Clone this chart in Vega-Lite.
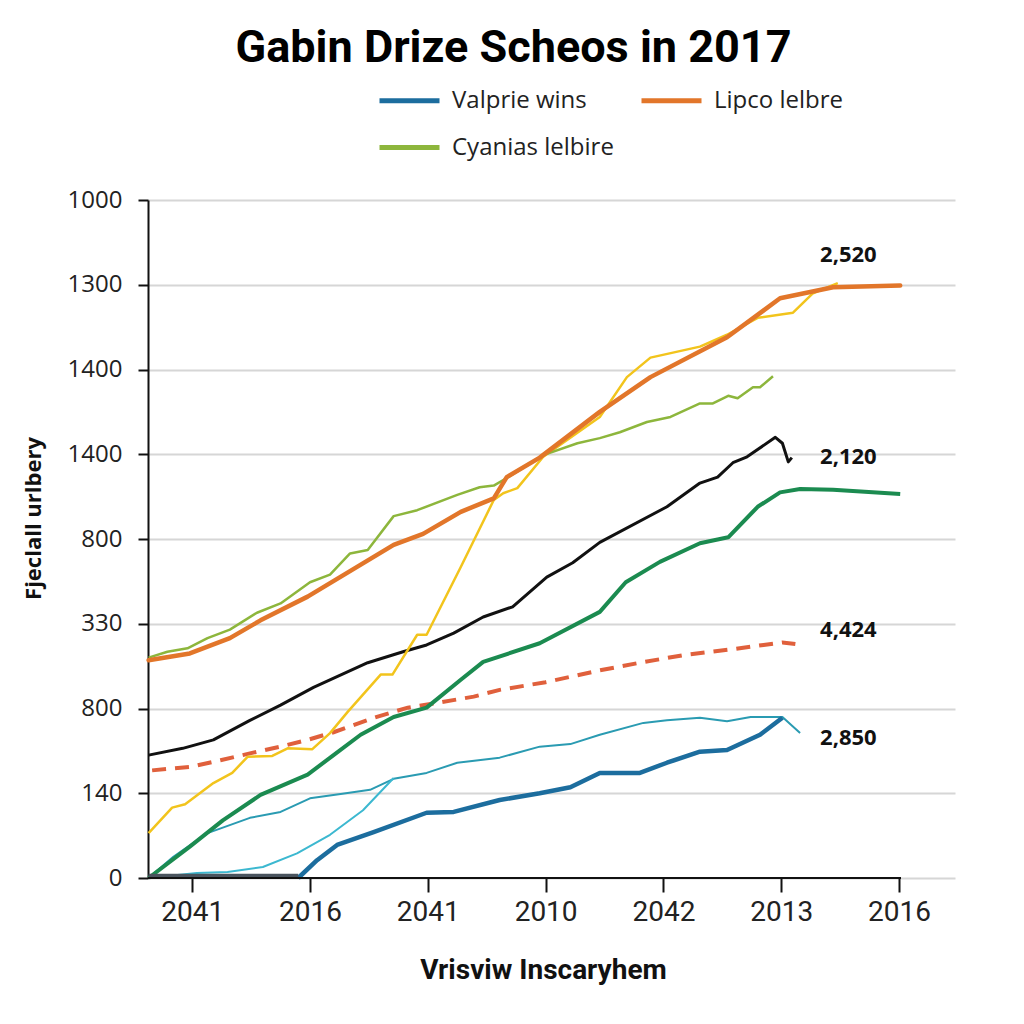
{
  "$schema": "https://vega.github.io/schema/vega-lite/v6.json",
  "width": 807,
  "height": 678,
  "autosize": {"type": "none"},
  "padding": {"left": 148, "top": 200, "right": 69, "bottom": 146},
  "background": "white",
  "title": {
    "text": "Gabin Drize Scheos in 2017",
    "font": "Liberation Sans Narrow, Roboto, sans-serif",
    "fontSize": 45,
    "fontWeight": "bold",
    "color": "#000000",
    "anchor": "middle",
    "dx": -38,
    "offset": -3
  },
  "config": {
    "view": {"stroke": null},
    "axis": {
      "domainColor": "#111111",
      "domainWidth": 2,
      "tickColor": "#111111",
      "tickWidth": 2,
      "gridColor": "#d6d6d6",
      "gridWidth": 2,
      "labelColor": "#222222",
      "titleColor": "#111111"
    },
    "legend": {
      "orient": "none",
      "legendX": 229,
      "legendY": -132,
      "columns": 2,
      "symbolType": "stroke",
      "symbolSize": 3600,
      "symbolStrokeWidth": 5,
      "labelFont": "Open Sans",
      "labelFontSize": 24,
      "labelColor": "#222222",
      "labelOffset": 10,
      "labelLimit": 400,
      "columnPadding": 17,
      "rowPadding": 2,
      "padding": 0,
      "title": null
    }
  },
  "datasets": {
    "lines": [
      {"s": "Valprie wins", "x": 0.90, "y": 0.00},
      {"s": "Valprie wins", "x": 1.06, "y": 0.21},
      {"s": "Valprie wins", "x": 1.23, "y": 0.39},
      {"s": "Valprie wins", "x": 1.54, "y": 0.54},
      {"s": "Valprie wins", "x": 1.99, "y": 0.77},
      {"s": "Valprie wins", "x": 2.22, "y": 0.78},
      {"s": "Valprie wins", "x": 2.61, "y": 0.92},
      {"s": "Valprie wins", "x": 2.95, "y": 1.00},
      {"s": "Valprie wins", "x": 3.21, "y": 1.07},
      {"s": "Valprie wins", "x": 3.46, "y": 1.24},
      {"s": "Valprie wins", "x": 3.80, "y": 1.24},
      {"s": "Valprie wins", "x": 4.03, "y": 1.36},
      {"s": "Valprie wins", "x": 4.31, "y": 1.49},
      {"s": "Valprie wins", "x": 4.54, "y": 1.51},
      {"s": "Valprie wins", "x": 4.82, "y": 1.69},
      {"s": "Valprie wins", "x": 5.01, "y": 1.89},

      {"s": "Lipco lelbre", "x": -0.37, "y": 2.57},
      {"s": "Lipco lelbre", "x": -0.02, "y": 2.65},
      {"s": "Lipco lelbre", "x": 0.32, "y": 2.83},
      {"s": "Lipco lelbre", "x": 0.58, "y": 3.04},
      {"s": "Lipco lelbre", "x": 0.98, "y": 3.32},
      {"s": "Lipco lelbre", "x": 1.71, "y": 3.93},
      {"s": "Lipco lelbre", "x": 1.96, "y": 4.06},
      {"s": "Lipco lelbre", "x": 2.28, "y": 4.32},
      {"s": "Lipco lelbre", "x": 2.56, "y": 4.48},
      {"s": "Lipco lelbre", "x": 2.67, "y": 4.73},
      {"s": "Lipco lelbre", "x": 2.95, "y": 4.96},
      {"s": "Lipco lelbre", "x": 3.46, "y": 5.50},
      {"s": "Lipco lelbre", "x": 3.89, "y": 5.91},
      {"s": "Lipco lelbre", "x": 4.54, "y": 6.38},
      {"s": "Lipco lelbre", "x": 4.99, "y": 6.84},
      {"s": "Lipco lelbre", "x": 5.44, "y": 6.97},
      {"s": "Lipco lelbre", "x": 6.01, "y": 6.99},

      {"s": "Cyanias lelbire", "x": -0.37, "y": 2.60},
      {"s": "Cyanias lelbire", "x": -0.21, "y": 2.67},
      {"s": "Cyanias lelbire", "x": -0.04, "y": 2.71},
      {"s": "Cyanias lelbire", "x": 0.13, "y": 2.83},
      {"s": "Cyanias lelbire", "x": 0.32, "y": 2.93},
      {"s": "Cyanias lelbire", "x": 0.55, "y": 3.13},
      {"s": "Cyanias lelbire", "x": 0.75, "y": 3.24},
      {"s": "Cyanias lelbire", "x": 1.00, "y": 3.49},
      {"s": "Cyanias lelbire", "x": 1.17, "y": 3.58},
      {"s": "Cyanias lelbire", "x": 1.34, "y": 3.83},
      {"s": "Cyanias lelbire", "x": 1.49, "y": 3.87},
      {"s": "Cyanias lelbire", "x": 1.71, "y": 4.27},
      {"s": "Cyanias lelbire", "x": 1.91, "y": 4.34},
      {"s": "Cyanias lelbire", "x": 2.25, "y": 4.52},
      {"s": "Cyanias lelbire", "x": 2.44, "y": 4.61},
      {"s": "Cyanias lelbire", "x": 2.56, "y": 4.63},
      {"s": "Cyanias lelbire", "x": 2.67, "y": 4.72},
      {"s": "Cyanias lelbire", "x": 2.98, "y": 4.99},
      {"s": "Cyanias lelbire", "x": 3.27, "y": 5.13},
      {"s": "Cyanias lelbire", "x": 3.46, "y": 5.19},
      {"s": "Cyanias lelbire", "x": 3.63, "y": 5.26},
      {"s": "Cyanias lelbire", "x": 3.86, "y": 5.38},
      {"s": "Cyanias lelbire", "x": 4.06, "y": 5.44},
      {"s": "Cyanias lelbire", "x": 4.31, "y": 5.60},
      {"s": "Cyanias lelbire", "x": 4.42, "y": 5.60},
      {"s": "Cyanias lelbire", "x": 4.55, "y": 5.69},
      {"s": "Cyanias lelbire", "x": 4.63, "y": 5.66},
      {"s": "Cyanias lelbire", "x": 4.76, "y": 5.79},
      {"s": "Cyanias lelbire", "x": 4.82, "y": 5.79},
      {"s": "Cyanias lelbire", "x": 4.93, "y": 5.92},

      {"s": "Yellow", "x": -0.37, "y": 0.53},
      {"s": "Yellow", "x": -0.17, "y": 0.83},
      {"s": "Yellow", "x": -0.06, "y": 0.87},
      {"s": "Yellow", "x": 0.18, "y": 1.12},
      {"s": "Yellow", "x": 0.34, "y": 1.24},
      {"s": "Yellow", "x": 0.47, "y": 1.43},
      {"s": "Yellow", "x": 0.68, "y": 1.44},
      {"s": "Yellow", "x": 0.81, "y": 1.53},
      {"s": "Yellow", "x": 1.02, "y": 1.52},
      {"s": "Yellow", "x": 1.17, "y": 1.71},
      {"s": "Yellow", "x": 1.32, "y": 1.96},
      {"s": "Yellow", "x": 1.60, "y": 2.40},
      {"s": "Yellow", "x": 1.70, "y": 2.40},
      {"s": "Yellow", "x": 1.91, "y": 2.87},
      {"s": "Yellow", "x": 1.99, "y": 2.87},
      {"s": "Yellow", "x": 2.28, "y": 3.67},
      {"s": "Yellow", "x": 2.56, "y": 4.46},
      {"s": "Yellow", "x": 2.64, "y": 4.54},
      {"s": "Yellow", "x": 2.76, "y": 4.60},
      {"s": "Yellow", "x": 2.98, "y": 4.97},
      {"s": "Yellow", "x": 3.46, "y": 5.44},
      {"s": "Yellow", "x": 3.69, "y": 5.91},
      {"s": "Yellow", "x": 3.89, "y": 6.14},
      {"s": "Yellow", "x": 4.31, "y": 6.27},
      {"s": "Yellow", "x": 4.54, "y": 6.41},
      {"s": "Yellow", "x": 4.80, "y": 6.61},
      {"s": "Yellow", "x": 5.10, "y": 6.67},
      {"s": "Yellow", "x": 5.27, "y": 6.90},
      {"s": "Yellow", "x": 5.48, "y": 7.02},

      {"s": "Black", "x": -0.37, "y": 1.45},
      {"s": "Black", "x": -0.08, "y": 1.53},
      {"s": "Black", "x": 0.18, "y": 1.63},
      {"s": "Black", "x": 0.49, "y": 1.86},
      {"s": "Black", "x": 0.75, "y": 2.04},
      {"s": "Black", "x": 1.03, "y": 2.25},
      {"s": "Black", "x": 1.49, "y": 2.54},
      {"s": "Black", "x": 1.79, "y": 2.67},
      {"s": "Black", "x": 1.99, "y": 2.75},
      {"s": "Black", "x": 2.22, "y": 2.89},
      {"s": "Black", "x": 2.47, "y": 3.08},
      {"s": "Black", "x": 2.72, "y": 3.20},
      {"s": "Black", "x": 3.01, "y": 3.55},
      {"s": "Black", "x": 3.23, "y": 3.72},
      {"s": "Black", "x": 3.46, "y": 3.96},
      {"s": "Black", "x": 4.03, "y": 4.38},
      {"s": "Black", "x": 4.31, "y": 4.66},
      {"s": "Black", "x": 4.46, "y": 4.73},
      {"s": "Black", "x": 4.59, "y": 4.90},
      {"s": "Black", "x": 4.71, "y": 4.97},
      {"s": "Black", "x": 4.95, "y": 5.20},
      {"s": "Black", "x": 5.01, "y": 5.13},
      {"s": "Black", "x": 5.06, "y": 4.91},
      {"s": "Black", "x": 5.09, "y": 4.96},

      {"s": "Green", "x": -0.37, "y": 0.00},
      {"s": "Green", "x": -0.02, "y": 0.37},
      {"s": "Green", "x": 0.26, "y": 0.68},
      {"s": "Green", "x": 0.58, "y": 0.98},
      {"s": "Green", "x": 0.98, "y": 1.22},
      {"s": "Green", "x": 1.20, "y": 1.45},
      {"s": "Green", "x": 1.43, "y": 1.69},
      {"s": "Green", "x": 1.71, "y": 1.90},
      {"s": "Green", "x": 1.99, "y": 2.01},
      {"s": "Green", "x": 2.28, "y": 2.34},
      {"s": "Green", "x": 2.47, "y": 2.55},
      {"s": "Green", "x": 2.95, "y": 2.77},
      {"s": "Green", "x": 3.46, "y": 3.14},
      {"s": "Green", "x": 3.68, "y": 3.49},
      {"s": "Green", "x": 3.97, "y": 3.73},
      {"s": "Green", "x": 4.31, "y": 3.95},
      {"s": "Green", "x": 4.55, "y": 4.02},
      {"s": "Green", "x": 4.80, "y": 4.38},
      {"s": "Green", "x": 4.99, "y": 4.55},
      {"s": "Green", "x": 5.16, "y": 4.59},
      {"s": "Green", "x": 5.44, "y": 4.58},
      {"s": "Green", "x": 6.01, "y": 4.53},

      {"s": "Red", "x": -0.34, "y": 1.27},
      {"s": "Red", "x": -0.02, "y": 1.31},
      {"s": "Red", "x": 0.24, "y": 1.39},
      {"s": "Red", "x": 0.49, "y": 1.47},
      {"s": "Red", "x": 0.75, "y": 1.55},
      {"s": "Red", "x": 0.98, "y": 1.63},
      {"s": "Red", "x": 1.20, "y": 1.72},
      {"s": "Red", "x": 1.54, "y": 1.89},
      {"s": "Red", "x": 1.83, "y": 2.01},
      {"s": "Red", "x": 2.05, "y": 2.06},
      {"s": "Red", "x": 2.39, "y": 2.14},
      {"s": "Red", "x": 2.61, "y": 2.22},
      {"s": "Red", "x": 3.00, "y": 2.31},
      {"s": "Red", "x": 3.46, "y": 2.45},
      {"s": "Red", "x": 3.80, "y": 2.54},
      {"s": "Red", "x": 4.17, "y": 2.63},
      {"s": "Red", "x": 4.59, "y": 2.70},
      {"s": "Red", "x": 4.85, "y": 2.75},
      {"s": "Red", "x": 5.01, "y": 2.78},
      {"s": "Red", "x": 5.12, "y": 2.76},

      {"s": "Teal", "x": -0.37, "y": 0.00},
      {"s": "Teal", "x": -0.16, "y": 0.25},
      {"s": "Teal", "x": 0.13, "y": 0.53},
      {"s": "Teal", "x": 0.49, "y": 0.71},
      {"s": "Teal", "x": 0.75, "y": 0.78},
      {"s": "Teal", "x": 1.00, "y": 0.94},
      {"s": "Teal", "x": 1.26, "y": 0.99},
      {"s": "Teal", "x": 1.51, "y": 1.04},
      {"s": "Teal", "x": 1.71, "y": 1.17},
      {"s": "Teal", "x": 1.99, "y": 1.24},
      {"s": "Teal", "x": 2.25, "y": 1.36},
      {"s": "Teal", "x": 2.61, "y": 1.42},
      {"s": "Teal", "x": 2.95, "y": 1.55},
      {"s": "Teal", "x": 3.21, "y": 1.58},
      {"s": "Teal", "x": 3.46, "y": 1.69},
      {"s": "Teal", "x": 3.83, "y": 1.83},
      {"s": "Teal", "x": 4.03, "y": 1.86},
      {"s": "Teal", "x": 4.31, "y": 1.89},
      {"s": "Teal", "x": 4.54, "y": 1.85},
      {"s": "Teal", "x": 4.74, "y": 1.90},
      {"s": "Teal", "x": 5.01, "y": 1.90},
      {"s": "Teal", "x": 5.16, "y": 1.71},

      {"s": "Cyan", "x": -0.37, "y": 0.00},
      {"s": "Cyan", "x": 0.04, "y": 0.06},
      {"s": "Cyan", "x": 0.30, "y": 0.07},
      {"s": "Cyan", "x": 0.60, "y": 0.13},
      {"s": "Cyan", "x": 0.89, "y": 0.29},
      {"s": "Cyan", "x": 1.17, "y": 0.51},
      {"s": "Cyan", "x": 1.45, "y": 0.80},
      {"s": "Cyan", "x": 1.71, "y": 1.18},

      {"s": "Base", "x": -0.37, "y": 0.02},
      {"s": "Base", "x": 0.90, "y": 0.02}
    ],
    "notes": [
      {"label": "2,520", "x": 5.57, "y": 7.35},
      {"label": "2,120", "x": 5.57, "y": 4.97},
      {"label": "4,424", "x": 5.57, "y": 2.93},
      {"label": "2,850", "x": 5.57, "y": 1.65}
    ]
  },
  "data": {"name": "lines"},
  "encoding": {
    "x": {
      "field": "x",
      "type": "quantitative",
      "scale": {"domain": [-0.375, 6.475], "nice": false, "zero": false},
      "axis": {
        "values": [0, 1, 2, 3, 4, 5, 6],
        "labelExpr": "['2041','2016','2041','2010','2042','2013','2016'][datum.value]",
        "domain": false,
        "grid": false,
        "tickSize": 14,
        "labelPadding": 6,
        "labelFont": "Liberation Sans Narrow, Roboto, sans-serif",
        "labelFontSize": 28,
        "labelColor": "#222222",
        "title": "Vrisviw Inscaryhem",
        "titleFont": "Liberation Sans Narrow, Roboto, sans-serif",
        "titleFontSize": 28,
        "titleFontWeight": "bold",
        "titleX": 395,
        "titleY": 100,
        "titleBaseline": "alphabetic",
        "titleAlign": "center"
      }
    },
    "y": {
      "field": "y",
      "type": "quantitative",
      "scale": {"domain": [0, 8], "nice": false, "zero": false},
      "axis": {
        "values": [0, 1, 2, 3, 4, 5, 6, 7, 8],
        "labelExpr": "['0','140','800','330','800','1400','1400','1300','1000'][datum.value]",
        "grid": true,
        "tickSize": 10,
        "labelPadding": 16,
        "labelFont": "Open Sans",
        "labelFontSize": 24,
        "title": "Fjeclall urlbery",
        "titleFont": "Open Sans",
        "titleFontSize": 22,
        "titleFontWeight": "bold",
        "titleAngle": 270,
        "titleX": -115,
        "titleY": 318,
        "titleAlign": "center",
        "titleBaseline": "middle"
      }
    }
  },
  "layer": [
    {
      "transform": [{"filter": "datum.s === 'Teal'"}],
      "mark": {"type": "line", "color": "#2a9bb2", "strokeWidth": 2, "strokeJoin": "round"}
    },
    {
      "transform": [{"filter": "datum.s === 'Cyan'"}],
      "mark": {"type": "line", "color": "#3cb8d0", "strokeWidth": 2, "strokeJoin": "round"}
    },
    {
      "transform": [{"filter": "datum.s === 'Red'"}],
      "mark": {"type": "line", "color": "#e0603c", "strokeWidth": 4, "strokeDash": [14, 9]}
    },
    {
      "transform": [{"filter": "datum.s === 'Black'"}],
      "mark": {"type": "line", "color": "#111111", "strokeWidth": 3, "strokeJoin": "round"}
    },
    {
      "transform": [{"filter": "datum.s === 'Green'"}],
      "mark": {"type": "line", "color": "#1b8b50", "strokeWidth": 4, "strokeJoin": "round"}
    },
    {
      "transform": [{"filter": "datum.s === 'Yellow'"}],
      "mark": {"type": "line", "color": "#f2c41c", "strokeWidth": 2.5, "strokeJoin": "round"}
    },
    {
      "transform": [{"filter": "datum.s === 'Cyanias lelbire'"}],
      "mark": {"type": "line", "strokeWidth": 2.5, "strokeJoin": "round"},
      "encoding": {
        "color": {
          "field": "s",
          "type": "nominal",
          "scale": {"domain": ["Valprie wins", "Cyanias lelbire", "Lipco lelbre"], "range": ["#1c6d9e", "#8db63c", "#e2762a"]}
        }
      }
    },
    {
      "transform": [{"filter": "datum.s === 'Lipco lelbre'"}],
      "mark": {"type": "line", "strokeWidth": 4.5, "strokeJoin": "round", "strokeCap": "round"},
      "encoding": {
        "color": {"field": "s", "type": "nominal"}
      }
    },
    {
      "transform": [{"filter": "datum.s === 'Valprie wins'"}],
      "mark": {"type": "line", "strokeWidth": 4.5, "strokeJoin": "round"},
      "encoding": {
        "color": {"field": "s", "type": "nominal"}
      }
    },
    {
      "transform": [{"filter": "datum.s === 'Base'"}],
      "mark": {"type": "line", "color": "#4a545e", "strokeWidth": 5}
    },
    {
      "mark": {"type": "rule", "color": "#111111", "strokeWidth": 2},
      "encoding": {
        "x": {"datum": -0.375, "type": "quantitative"},
        "x2": {"datum": 6.01},
        "y": {"datum": 0, "type": "quantitative"}
      }
    },
    {
      "data": {"name": "notes"},
      "mark": {"type": "text", "font": "Open Sans", "fontSize": 22, "fontWeight": "bold", "color": "#111111", "align": "center", "baseline": "middle"},
      "encoding": {
        "text": {"field": "label", "type": "nominal"}
      }
    }
  ]
}
